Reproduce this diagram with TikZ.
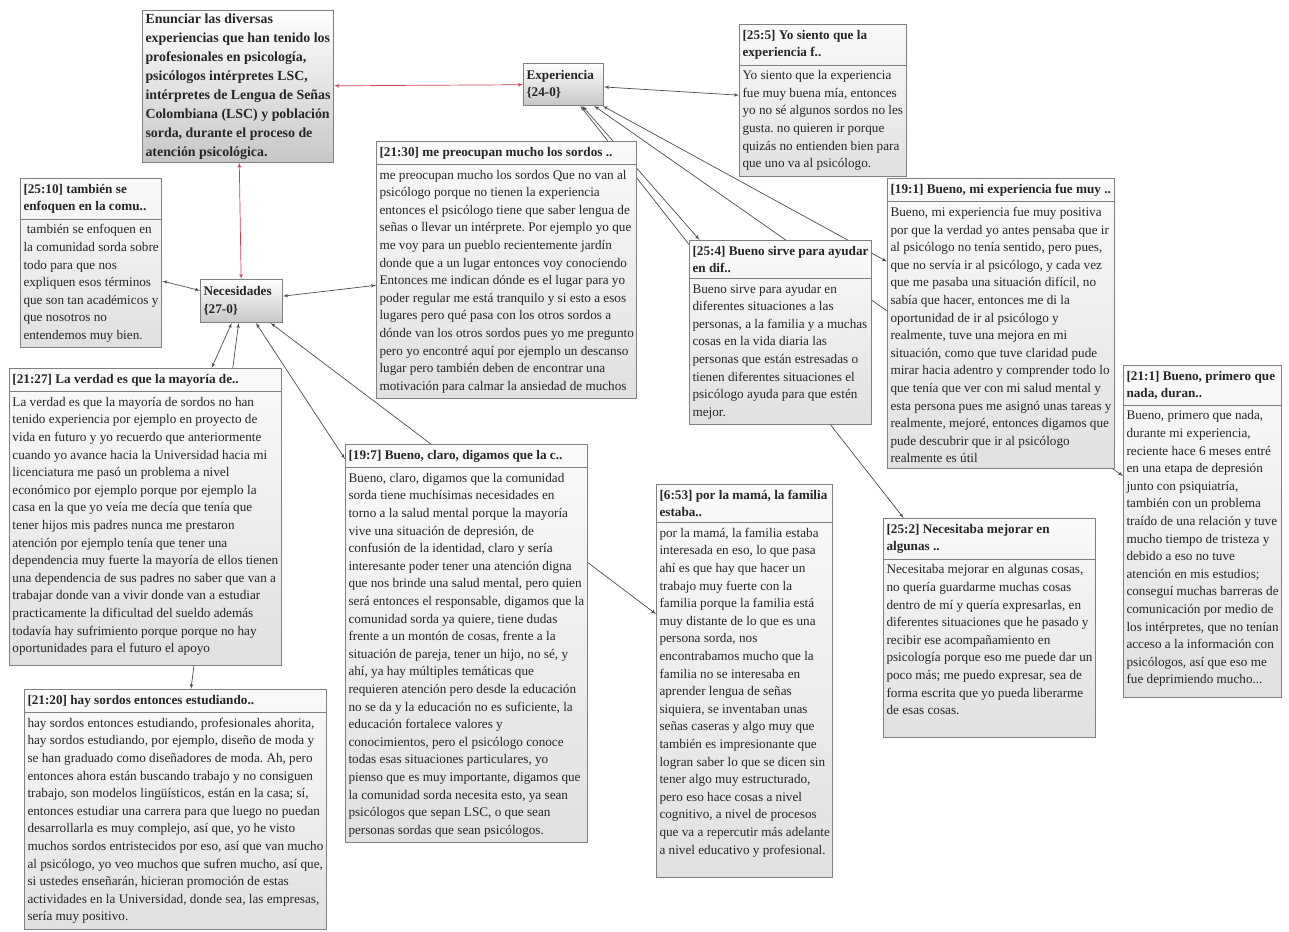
\documentclass[tikz,border=0pt]{standalone}
\usepackage{fontspec}
\setmainfont{Liberation Serif}
\usepackage{tikz}
\usetikzlibrary{%
  positioning
 ,arrows
 ,shapes
 ,backgrounds
}
\frenchspacing
\definecolor{linkred}{RGB}{205,60,80}
\tikzstyle{quo}=[rectangle split,rectangle split parts=2,rectangle split part align=left,
  draw=black!50,line width=1pt,top color=black!2,bottom color=black!12,text=black!85,
  anchor=north west,align=left,inner xsep=3pt,inner ysep=5pt,
  font=\fontsize{13.2}{17.6}\selectfont]
\tikzstyle{cod}=[draw=black!50,line width=1pt,top color=white,bottom color=black!22,
  text=black!85,anchor=north west,align=left,inner sep=3pt,
  font=\bfseries\fontsize{13.2}{17.6}\selectfont]

\begin{document}
\begin{tikzpicture}[x=1pt,y=-1pt,%
    every edge/.style={draw=black!70,line width=.7pt,latex'-latex'}]
  \useasboundingbox (0,0) rectangle (1289,931);
  % the goal and the codes
  \node[cod,font=\bfseries\fontsize{13.9}{19}\selectfont](goal) at (142,10){Enunciar las diversas\\experiencias que han tenido los\\profesionales en psicología,\\psicólogos intérpretes LSC,\\intérpretes de Lengua de Señas\\Colombiana (LSC) y población\\sorda, durante el proceso de\\atención psicológica.};
  \node[cod,text width=74pt,minimum height=42pt](exp) at (523,63){Experiencia\\\{24-0\}};
  \node[cod,text width=76pt,minimum height=43pt](nec) at (200,279){Necesidades\\\{27-0\}};
  % the quotations of Experiencia
  \node[quo](q255) at (739,24){\textbf{[25:5] Yo siento que la}\\\textbf{experiencia f..}\nodepart{two}Yo siento que la experiencia\\fue muy buena mía, entonces\\yo no sé algunos sordos no les\\gusta. no quieren ir porque\\quizás no entienden bien para\\que uno va al psicólogo.};
  \node[quo](q254) at (689,240){\textbf{[25:4] Bueno sirve para ayudar}\\\textbf{en dif..}\nodepart{two}Bueno sirve para ayudar en\\diferentes situaciones a las\\personas, a la familia y a muchas\\cosas en la vida diaria las\\personas que están estresadas o\\tienen diferentes situaciones el\\psicólogo ayuda para que estén\\mejor.};
  \node[quo](q191) at (887,178){\textbf{[19:1] Bueno, mi experiencia fue muy ..}\nodepart{two}Bueno, mi experiencia fue muy positiva\\por que la verdad yo antes pensaba que ir\\al psicólogo no tenía sentido, pero pues,\\que no servía ir al psicólogo, y cada vez\\que me pasaba una situación difícil, no\\sabía que hacer, entonces me di la\\oportunidad de ir al psicólogo y\\realmente, tuve una mejora en mi\\situación, como que tuve claridad pude\\mirar hacia adentro y comprender todo lo\\que tenía que ver con mi salud mental y\\esta persona pues me asignó unas tareas y\\realmente, mejoré, entonces digamos que\\pude descubrir que ir al psicólogo\\realmente es útil};
  \node[quo](q211) at (1123,365){\textbf{[21:1] Bueno, primero que}\\\textbf{nada, duran..}\nodepart{two}Bueno, primero que nada,\\durante mi experiencia,\\reciente hace 6 meses entré\\en una etapa de depresión\\junto con psiquiatría,\\también con un problema\\traído de una relación y tuve\\mucho tiempo de tristeza y\\debido a eso no tuve\\atención en mis estudios;\\conseguí muchas barreras de\\comunicación por medio de\\los intérpretes, que no tenían\\acceso a la información con\\psicólogos, así que eso me\\fue deprimiendo mucho...\\[-10pt]\mbox{}};
  \node[quo](q252) at (883,518){\textbf{[25:2] Necesitaba mejorar en}\\\textbf{algunas ..}\nodepart{two}Necesitaba mejorar en algunas cosas,\\no quería guardarme muchas cosas\\dentro de mí y quería expresarlas, en\\diferentes situaciones que he pasado y\\recibir ese acompañamiento en\\psicología porque eso me puede dar un\\poco más; me puedo expresar, sea de\\forma escrita que yo pueda liberarme\\de esas cosas.\\\mbox{}};
  % the quotations of Necesidades
  \node[quo](q2510) at (20,178){\textbf{[25:10] también se}\\\textbf{enfoquen en la comu..}\nodepart{two}\ también se enfoquen en\\la comunidad sorda sobre\\todo para que nos\\expliquen esos términos\\que son tan académicos y\\que nosotros no\\entendemos muy bien.};
  \node[quo](q2130) at (376,141){\textbf{[21:30] me preocupan mucho los sordos ..}\nodepart{two}me preocupan mucho los sordos Que no van al\\psicólogo porque no tienen la experiencia\\entonces el psicólogo tiene que saber lengua de\\señas o llevar un intérprete. Por ejemplo yo que\\me voy para un pueblo recientemente jardín\\donde que a un lugar entonces voy conociendo\\Entonces me indican dónde es el lugar para yo\\poder regular me está tranquilo y si esto a esos\\lugares pero qué pasa con los otros sordos a\\dónde van los otros sordos pues yo me pregunto\\pero yo encontré aquí por ejemplo un descanso\\lugar pero también deben de encontrar una\\motivación para calmar la ansiedad de muchos};
  \node[quo](q2127) at (9,368){\textbf{[21:27] La verdad es que la mayoría de..}\nodepart{two}La verdad es que la mayoría de sordos no han\\tenido experiencia por ejemplo en proyecto de\\vida en futuro y yo recuerdo que anteriormente\\cuando yo avance hacia la Universidad hacia mi\\licenciatura me pasó un problema a nivel\\económico por ejemplo porque por ejemplo la\\casa en la que yo veía me decía que tenía que\\tener hijos mis padres nunca me prestaron\\atención por ejemplo tenía que tener una\\dependencia muy fuerte la mayoría de ellos tienen\\una dependencia de sus padres no saber que van a\\trabajar donde van a vivir donde van a estudiar\\practicamente la dificultad del sueldo además\\todavía hay sufrimiento porque porque no hay\\oportunidades para el futuro el apoyo\\[-10pt]\mbox{}};
  \node[quo](q2120) at (24,689){\textbf{[21:20] hay sordos entonces estudiando..}\nodepart{two}hay sordos entonces estudiando, profesionales ahorita,\\hay sordos estudiando, por ejemplo, diseño de moda y\\se han graduado como diseñadores de moda. Ah, pero\\entonces ahora están buscando trabajo y no consiguen\\trabajo, son modelos lingüísticos, están en la casa; sí,\\entonces estudiar una carrera para que luego no puedan\\desarrollarla es muy complejo, así que, yo he visto\\muchos sordos entristecidos por eso, así que van mucho\\al psicólogo, yo veo muchos que sufren mucho, así que,\\si ustedes enseñarán, hicieran promoción de estas\\actividades en la Universidad, donde sea, las empresas,\\sería muy positivo.};
  \node[quo](q197) at (345,444){\textbf{[19:7] Bueno, claro, digamos que la c..}\nodepart{two}Bueno, claro, digamos que la comunidad\\sorda tiene muchísimas necesidades en\\torno a la salud mental porque la mayoría\\vive una situación de depresión, de\\confusión de la identidad, claro y sería\\interesante poder tener una atención digna\\que nos brinde una salud mental, pero quien\\será entonces el responsable, digamos que la\\comunidad sorda ya quiere, tiene dudas\\frente a un montón de cosas, frente a la\\situación de pareja, tener un hijo, no sé, y\\ahí, ya hay múltiples temáticas que\\requieren atención pero desde la educación\\no se da y la educación no es suficiente, la\\educación fortalece valores y\\conocimientos, pero el psicólogo conoce\\todas esas situaciones particulares, yo\\pienso que es muy importante, digamos que\\la comunidad sorda necesita esto, ya sean\\psicólogos que sepan LSC, o que sean\\personas sordas que sean psicólogos.};
  \node[quo](q653) at (656,484){\textbf{[6:53] por la mamá, la familia}\\\textbf{estaba..}\nodepart{two}por la mamá, la familia estaba\\interesada en eso, lo que pasa\\ahí es que hay que hacer un\\trabajo muy fuerte con la\\familia porque la familia está\\muy distante de lo que es una\\persona sorda, nos\\encontrabamos mucho que la\\familia no se interesaba en\\aprender lengua de señas\\siquiera, se inventaban unas\\señas caseras y algo muy que\\también es impresionante que\\logran saber lo que se dicen sin\\tener algo muy estructurado,\\pero eso hace cosas a nivel\\cognitivo, a nivel de procesos\\que va a repercutir más adelante\\a nivel educativo y profesional.\\\mbox{}};
  % the links
  \begin{scope}[on background layer]
    \path (goal)edge[draw=linkred](exp) (goal)edge[draw=linkred](nec);
    \path (exp)edge(q255) (exp)edge(q254) (exp)edge(q252) (exp)edge(q191) (exp)edge(q211);
    \path (nec)edge(q2510) (nec)edge(q2130) (nec)edge(q2127) (nec)edge(q2120)
          (nec)edge(q197) (nec)edge(q653);
  \end{scope}
\end{tikzpicture}
\end{document}
